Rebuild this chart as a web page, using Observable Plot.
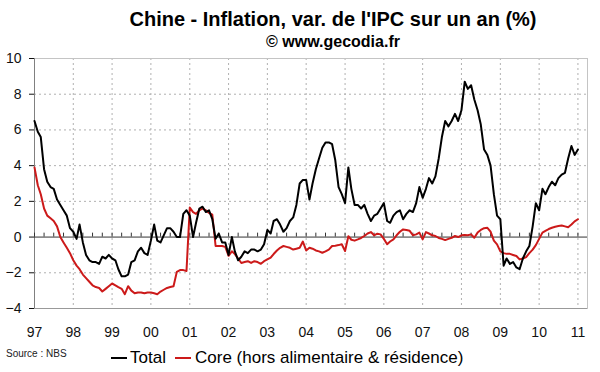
<!DOCTYPE html>
<html><head><meta charset="utf-8">
<script src="https://cdn.jsdelivr.net/npm/d3@7"></script>
<script src="https://cdn.jsdelivr.net/npm/@observablehq/plot@0.6"></script>
<style>
body{margin:0;background:#fff;}
#wrap{position:relative;width:600px;height:372px;font-family:"Liberation Sans",Arial,sans-serif;color:#000;overflow:hidden;background:#fff}
.t{position:absolute;white-space:nowrap}
.sw{position:absolute;height:2px}
</style></head><body>
<div id="wrap">
 <div class="t" style="left:333px;top:8px;transform:translateX(-50%);font-weight:bold;font-size:20px;line-height:22px">Chine - Inflation, var. de l'IPC sur un an (%)</div>
 <div class="t" style="left:333px;top:33px;transform:translateX(-50%);font-weight:bold;font-size:16px;line-height:18px">© www.gecodia.fr</div>
 <div id="chart" style="position:absolute;left:0;top:50px"></div>
 <div class="t" style="left:6px;top:348px;font-size:10px;line-height:12px;color:#222">Source : NBS</div>
 <div class="sw" style="left:111px;top:357px;width:16px;background:#000"></div>
 <div class="t" style="left:130px;top:348px;font-size:17px;line-height:20px">Total</div>
 <div class="sw" style="left:175px;top:357px;width:16px;background:#cc1a1a"></div>
 <div class="t" style="left:195px;top:348px;font-size:17px;line-height:20px">Core (hors alimentaire &amp; résidence)</div>
</div>
<script>
// Monthly year-on-year CPI, Jan 1997 .. Jan 2011
const startMonth = "1997-01-01";
const total = [
 6.5, 5.9, 5.6, 3.8, 3.1, 2.8, 2.7, 2.1, 1.8, 1.5, 1.2, 0.5,
 0.3, -0.1, 0.7, -0.3, -1.0, -1.3, -1.4, -1.4, -1.5, -1.1, -1.2, -1.0,
 -1.2, -1.3, -1.8, -2.2, -2.2, -2.1, -1.4, -1.3, -0.8, -0.6, -0.9, -1.0,
 -0.2, 0.7, -0.2, -0.3, 0.1, 0.5, 0.5, 0.3, 0.0, 0.0, 1.3, 1.5,
 1.2, 0.0, 0.8, 1.6, 1.7, 1.4, 1.5, 1.0, -0.1, 0.2, -0.3, -0.3,
 -1.0, 0.0, -0.8, -1.3, -1.1, -0.8, -0.9, -0.7, -0.7, -0.8, -0.7, -0.4,
 0.4, 0.2, 0.9, 1.0, 0.7, 0.3, 0.5, 0.9, 1.1, 1.8, 3.0, 3.2,
 3.2, 2.1, 3.0, 3.8, 4.4, 5.0, 5.3, 5.3, 5.2, 4.3, 2.8, 2.4,
 1.9, 3.9, 2.7, 1.8, 1.8, 1.6, 1.8, 1.3, 0.9, 1.2, 1.3, 1.6,
 1.9, 0.9, 0.8, 1.2, 1.4, 1.5, 1.0, 1.3, 1.5, 1.4, 1.9, 2.8,
 2.2, 2.7, 3.3, 3.0, 3.4, 4.4, 5.6, 6.5, 6.2, 6.5, 6.9, 6.5,
 7.1, 8.7, 8.3, 8.5, 7.7, 7.1, 6.3, 4.9, 4.6, 4.0, 2.4, 1.2,
 1.0, -1.6, -1.2, -1.5, -1.4, -1.7, -1.8, -1.2, -0.8, -0.5, 0.6, 1.9,
 1.5, 2.7, 2.4, 2.8, 3.1, 2.9, 3.3, 3.5, 3.6, 4.4, 5.1, 4.6,
 4.9
];
const core = [
 3.9, 2.9, 2.4, 1.6, 1.2, 1.05, 0.9, 0.6, 0.0, -0.3, -0.6, -0.9,
 -1.3, -1.6, -1.8, -2.1, -2.3, -2.5, -2.7, -2.8, -2.85, -3.05, -2.9, -2.75,
 -2.6, -2.7, -2.8, -2.9, -3.2, -2.75, -3.0, -3.15, -3.1, -3.1, -3.15, -3.1,
 -3.1, -3.15, -3.2, -3.05, -2.95, -2.85, -2.8, -2.75, -1.95, -1.85, -1.85, -1.9,
 1.65, 1.4, 1.3, 1.5, 1.6, 1.5, 1.35, 1.25, -0.5, -0.5, -0.5, -0.55,
 -1.05, -0.8, -0.95, -1.2, -1.45, -1.4, -1.35, -1.45, -1.35, -1.4, -1.5, -1.35,
 -1.25, -1.15, -0.95, -0.75, -0.6, -0.5, -0.55, -0.6, -0.7, -0.65, -0.6, -0.25,
 -0.75, -0.6, -0.65, -0.75, -0.8, -0.88, -0.8, -0.7, -0.5, -0.48, -0.45, -0.4,
 -0.78, 0.05, -0.15, -0.2, -0.13, -0.05, 0.06, 0.2, 0.28, 0.1, 0.19, 0.15,
 -0.1, -0.4, -0.25, -0.13, 0.1, 0.3, 0.43, 0.4, 0.35, 0.1, 0.15, 0.25,
 -0.13, 0.28, 0.2, 0.1, 0.06, -0.05, -0.1, -0.17, -0.1, -0.04, 0.06, 0.0,
 0.1, 0.12, 0.1, 0.15, -0.04, 0.25, 0.4, 0.5, 0.52, 0.3, -0.2, -0.41,
 -0.8, -0.9, -0.94, -0.94, -1.0, -1.06, -1.25, -1.2, -1.12, -0.9, -0.7, -0.45,
 -0.1, 0.25, 0.35, 0.45, 0.52, 0.58, 0.62, 0.65, 0.6, 0.55, 0.7, 0.88,
 1.0
];
const yTicks = [-4, -2, 0, 2, 4, 6, 8, 10];
const xTickYears = [1997,1998,1999,2000,2001,2002,2003,2004,2005,2006,2007,2008,2009,2010,2011];

const t0 = new Date(startMonth + "T00:00:00Z");
const toRows = arr => arr.map((v, i) => ({date: d3.utcMonth.offset(t0, i), value: v}));
const totalRows = toRows(total);
const coreRows = toRows(core);
const xDomain = [t0, new Date(Date.UTC(2011, 3, 1))];
const yDomain = [-4, 10];
const yearDates = xTickYears.map(y => new Date(Date.UTC(y, 0, 1)));
const quarters = d3.utcMonth.every(3).range(t0, new Date(Date.UTC(2011, 1, 1)));

const chart = Plot.plot({
  width: 600,
  height: 292,
  marginTop: 8,
  marginBottom: 34,
  marginLeft: 34,
  marginRight: 13,
  style: {fontFamily: "'Liberation Sans', Arial, sans-serif", fontSize: "14px", color: "#111", background: "#fff"},
  x: {type: "utc", domain: xDomain, ticks: yearDates, tickFormat: d3.utcFormat("%y"), tickSize: 0, tickPadding: 19, label: null},
  y: {domain: yDomain, ticks: yTicks, tickSize: 5, tickPadding: 8, label: null},
  marks: [
    Plot.ruleY(yTicks.filter(v => v !== 0 && v !== yDomain[0] && v !== yDomain[1]), {stroke: "#b0b0b0", strokeDasharray: "2,3"}),
    Plot.ruleX(yearDates.slice(1), {stroke: "#b0b0b0", strokeDasharray: "2,3"}),
    Plot.frame({stroke: "#c4c4c4"}),
    Plot.ruleX([xDomain[0]], {stroke: "#808080"}),
    Plot.ruleY([yDomain[0]], {stroke: "#999"}),
    Plot.ruleY([0], {stroke: "#333"}),
    Plot.ruleX(quarters, {y1: 0, y2: 0.22, stroke: "#333"}),
    Plot.line(coreRows, {x: "date", y: "value", stroke: "#cc1a1a", strokeWidth: 2}),
    Plot.line(totalRows, {x: "date", y: "value", stroke: "#000", strokeWidth: 2})
  ]
});
document.getElementById("chart").appendChild(chart);
</script>
</body></html>
